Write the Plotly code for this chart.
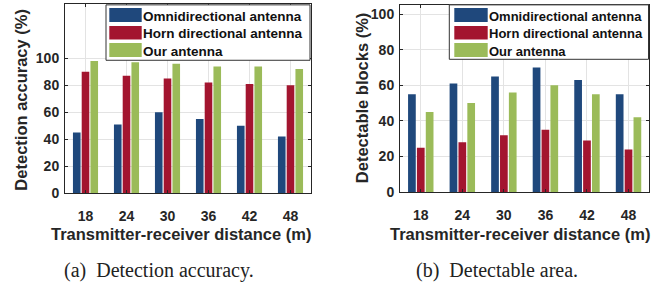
import plotly.graph_objects as go

W, H = 670, 287

distances = ["18", "24", "30", "36", "42", "48"]
series_names = ["Omnidirectional antenna", "Horn directional antenna", "Our antenna"]

acc_omni = [45, 51, 60, 55, 50, 42]
acc_horn = [90, 87, 85, 82, 81, 80]
acc_ours = [98, 97, 96, 94, 94, 92]

area_omni = [55, 61, 65, 70, 63, 55]
area_horn = [25, 28, 32, 35, 29, 24]
area_ours = [45, 50, 56, 60, 55, 42]

acc_ticks = [0, 20, 40, 60, 80, 100]
area_ticks = [0, 20, 40, 60, 80, 100]

colors = ["#1F487C", "#A3152F", "#9BBB59"]

def px(x):
    return x / W

def py(y):
    return 1 - y / H

fig = go.Figure()

for vals, name, col in zip([acc_omni, acc_horn, acc_ours], series_names, colors):
    fig.add_trace(go.Bar(x=distances, y=vals, name=name, marker_color=col,
                         marker_line_width=0, xaxis="x", yaxis="y", showlegend=False))
for vals, name, col in zip([area_omni, area_horn, area_ours], series_names, colors):
    fig.add_trace(go.Bar(x=distances, y=vals, name=name, marker_color=col,
                         marker_line_width=0, xaxis="x2", yaxis="y2", showlegend=False))

tickfont = dict(family="Liberation Sans", size=14, color="#262626", weight="bold")
axis_common = dict(showline=True, linecolor="#262626", linewidth=1, mirror="ticks",
                   ticks="inside", ticklen=3, tickcolor="#262626",
                   showgrid=True, gridcolor="#e3e3e3", gridwidth=1,
                   tickfont=tickfont, zeroline=False)

fig.update_layout(
    width=W, height=H, autosize=False,
    margin=dict(l=0, r=0, t=0, b=0),
    plot_bgcolor="white", paper_bgcolor="white",
    barmode="group", bargap=0.36, bargroupgap=0.13,
    xaxis=dict(domain=[px(65), px(311)], anchor="y", type="category",
               range=[-0.5, 5.5], ticklabelstandoff=10, **axis_common),
    yaxis=dict(domain=[py(198.7), py(4.5)], anchor="x", range=[0, 140],
               tickvals=acc_ticks, ticklabelstandoff=2, **axis_common),
    xaxis2=dict(domain=[px(400), px(649.3)], anchor="y2", type="category",
                range=[-0.5, 5.5], ticklabelstandoff=10, **axis_common),
    yaxis2=dict(domain=[py(197.7), py(4.7)], anchor="x2", range=[0, 105.3],
                tickvals=area_ticks, ticklabelstandoff=2, **axis_common),
)

shapes = []
annotations = []

def add_legend(box, sw_x, text_x, rows, fsize):
    x0, x1, y0, y1 = box
    shapes.append(dict(type="rect", xref="paper", yref="paper",
                       x0=px(x0), x1=px(x1), y0=py(y1), y1=py(y0),
                       fillcolor="white", line=dict(color="#333333", width=1), layer="above"))
    for (ry0, ry1), name, col in zip(rows, series_names, colors):
        shapes.append(dict(type="rect", xref="paper", yref="paper",
                           x0=px(sw_x[0]), x1=px(sw_x[1]), y0=py(ry1), y1=py(ry0),
                           fillcolor=col, line=dict(width=0), layer="above"))
        annotations.append(dict(xref="paper", yref="paper", x=px(text_x), y=py((ry0 + ry1) / 2 + 1),
                                text=name, showarrow=False, xanchor="left", yanchor="middle",
                                xshift=-2,
                                font=dict(family="Liberation Sans", size=fsize, color="#111111",
                                          weight="bold")))

rows = [(8.3, 22.7), (26.7, 40.7), (44.3, 58.7)]
add_legend((106, 310, 5, 62), (109.3, 141.7), 143, rows, 13.5)
add_legend((449.3, 648.5, 5, 61), (454.3, 487.7), 489, rows, 13)

title_font = dict(family="Liberation Sans", size=16.5, color="#262626", weight="bold")
annotations += [
    dict(xref="paper", yref="paper", x=px(181), y=py(241), text="Transmitter-receiver distance (m)",
         showarrow=False, xanchor="center", yanchor="middle", font=title_font),
    dict(xref="paper", yref="paper", x=px(520), y=py(241), text="Transmitter-receiver distance (m)",
         showarrow=False, xanchor="center", yanchor="middle", font=title_font),
    dict(xref="paper", yref="paper", x=px(21.5), y=py(103), text="Detection accuracy (%)",
         showarrow=False, textangle=-90, xanchor="center", yanchor="middle", font=title_font),
    dict(xref="paper", yref="paper", x=px(362), y=py(101), text="Detectable blocks (%)",
         showarrow=False, textangle=-90, xanchor="center", yanchor="middle", font=title_font),
    dict(xref="paper", yref="paper", x=px(159), y=py(278), text="(a)  Detection accuracy.",
         showarrow=False, xanchor="center", yanchor="middle",
         font=dict(family="Liberation Serif", size=20, color="#222222")),
    dict(xref="paper", yref="paper", x=px(497), y=py(278), text="(b)  Detectable area.",
         showarrow=False, xanchor="center", yanchor="middle",
         font=dict(family="Liberation Serif", size=20, color="#222222")),
]

fig.update_layout(shapes=shapes, annotations=annotations)
fig.write_html("out.html", config={"displayModeBar": False},
               post_script="document.body.style.margin='0';document.body.style.padding='0';")
